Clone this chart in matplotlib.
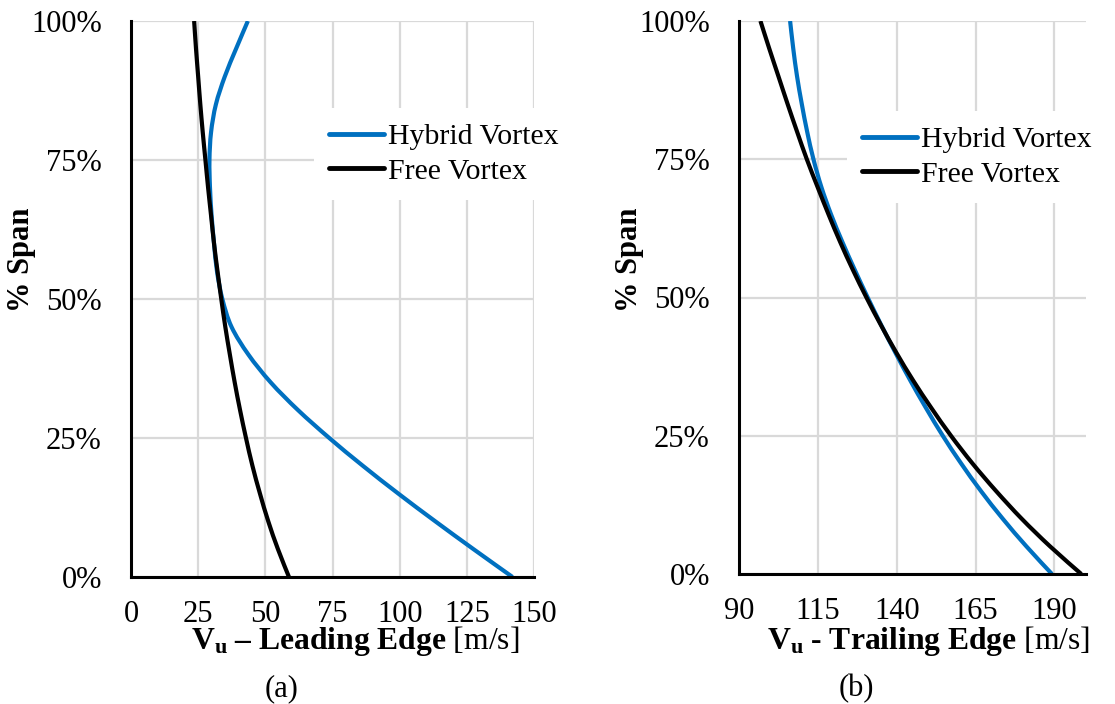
import matplotlib
matplotlib.use("Agg")
import matplotlib.pyplot as plt
from matplotlib.path import Path
from matplotlib.patches import PathPatch
from matplotlib.lines import Line2D
import numpy as np

plt.rcParams['font.family'] = ['Liberation Serif', 'DejaVu Serif']
plt.rcParams['mathtext.fontset'] = 'custom'
plt.rcParams['mathtext.rm'] = 'Liberation Serif'
plt.rcParams['mathtext.bf'] = 'Liberation Serif:bold'
plt.rcParams['mathtext.it'] = 'Liberation Serif:italic'

# ---- data ----
span = [0, 5, 10, 15, 20, 25, 30, 35, 40, 45, 50, 55, 60, 65, 70, 75, 80, 85, 90, 95, 100]

le_hybrid = [142.0, 127.5, 113.3, 99.5, 86.3, 73.8, 62.2, 52.0, 43.7, 37.4, 34.0,
             32.0, 30.9, 30.0, 29.4, 29.2, 29.8, 31.6, 34.9, 39.1, 43.5]
le_free = [58.8, 54.7, 51.1, 48.0, 45.2, 42.8, 40.6, 38.6, 36.8, 35.1, 33.6,
           32.2, 30.9, 29.8, 28.7, 27.7, 26.7, 25.8, 25.0, 24.2, 23.5]

te_hybrid = [189.2, 181.1, 173.6, 166.7, 160.4, 154.6, 149.3, 144.3, 139.6, 135.1, 130.8,
             126.7, 122.8, 119.2, 116.1, 113.6, 111.6, 109.9, 108.4, 107.2, 106.2]
te_free = [198.5, 188.6, 179.6, 171.5, 164.0, 157.2, 151.0, 145.2, 139.9, 135.0, 130.4,
           126.1, 122.1, 118.4, 114.9, 111.5, 108.4, 105.4, 102.5, 99.6, 96.8]

le_ticks = [0, 25, 50, 75, 100, 125, 150]
te_ticks = [90, 115, 140, 165, 190]
span_ticks = [0, 25, 50, 75, 100]
span_labels = ['0%', '25%', '50%', '75%', '100%']
series_names = ['Hybrid Vortex', 'Free Vortex']

BLUE = '#0070C0'
GRID = '#d9d9d9'
FS = 22
FS_LEG = 21.5
FS_LAB = 22.8
LW = 3.0

W, H = 1115, 704
fig = plt.figure(figsize=(W / 100, H / 100), dpi=100)


def px_axes(l, t, r, b):
    return fig.add_axes([l / W, 1 - b / H, (r - l) / W, (b - t) / H])


ax1 = px_axes(131, 21, 534, 577)
ax2 = px_axes(739, 21, 1086, 574)


def style(ax, xticks, xlim):
    ax.set_xlim(*xlim)
    ax.set_ylim(0, 100)
    ax.set_xticks(xticks)
    ax.set_yticks(span_ticks)
    ax.set_yticklabels(span_labels)
    ax.grid(True, color=GRID, lw=1.6)
    ax.set_axisbelow(True)
    for s in ['top', 'right']:
        ax.spines[s].set_visible(False)
    for s in ['left', 'bottom']:
        ax.spines[s].set_linewidth(2.2)
        ax.spines[s].set_color('black')
        ax.spines[s].set_zorder(3)
    ax.tick_params(axis='both', length=0, labelsize=FS)
    ax.tick_params(axis='y', pad=21)
    ax.tick_params(axis='x', pad=16.5)


def smooth_curve(ax, xs, ys, color, z):
    """Catmull-Rom spline through the data points, drawn as Bezier path in data coords."""
    P = np.column_stack([xs, ys]).astype(float)
    n = len(P)
    verts = [P[0]]
    codes = [Path.MOVETO]
    for i in range(n - 1):
        p0 = P[i - 1] if i > 0 else P[i]
        p1 = P[i]
        p2 = P[i + 1]
        p3 = P[i + 2] if i + 2 < n else P[i + 1]
        c1 = p1 + (p2 - p0) / 6.0
        c2 = p2 - (p3 - p1) / 6.0
        verts += [c1, c2, p2]
        codes += [Path.CURVE4] * 3
    patch = PathPatch(Path(verts, codes), fill=False, edgecolor=color, lw=LW,
                      capstyle='butt', joinstyle='round', zorder=z,
                      transform=ax.transData)
    ax.add_patch(patch)


style(ax1, le_ticks, (0, 150))
style(ax2, te_ticks, (90, 200))

for ax, hyb, free in [(ax1, le_hybrid, le_free), (ax2, te_hybrid, te_free)]:
    smooth_curve(ax, hyb, span, BLUE, 2)
    smooth_curve(ax, free, span, 'black', 2.1)

handles = [Line2D([], [], color=BLUE, lw=LW + 0.5, solid_capstyle='round'),
           Line2D([], [], color='black', lw=LW + 0.5, solid_capstyle='round')]

leg_kw = dict(fontsize=FS_LEG, frameon=True, facecolor='white', edgecolor='none', framealpha=1,
              fancybox=False, handlelength=1.85, handletextpad=0.12, labelspacing=0.25,
              borderpad=0.5, loc='center left')
ax1.legend(handles, series_names, bbox_to_anchor=(299 / W, 1 - 154 / H),
           bbox_transform=fig.transFigure, **leg_kw)
ax2.legend(handles, series_names, bbox_to_anchor=(832 / W, 1 - 157 / H),
           bbox_transform=fig.transFigure, **leg_kw)

# axis titles
fig.text(22 / W, 1 - 260 / H, '% Span', rotation=90, fontsize=FS, fontweight='bold',
         ha='center', va='center')
fig.text(629 / W, 1 - 260 / H, '% Span', rotation=90, fontsize=FS, fontweight='bold',
         ha='center', va='center')

fig.text(355 / W, 1 - 649 / H, r'$\mathbf{V_u\ –\ Leading\ Edge}$ [m/s]', fontsize=FS_LAB,
         ha='center', va='baseline')
fig.text(929 / W, 1 - 649 / H, r'$\mathbf{V_u\ ‐\ Trailing\ Edge}$ [m/s]', fontsize=FS_LAB,
         ha='center', va='baseline')

fig.text(282 / W, 1 - 696 / H, '(a)', fontsize=FS, ha='center', va='baseline')
fig.text(856 / W, 1 - 696 / H, '(b)', fontsize=FS, ha='center', va='baseline')

fig.savefig('out.png', dpi=100)
